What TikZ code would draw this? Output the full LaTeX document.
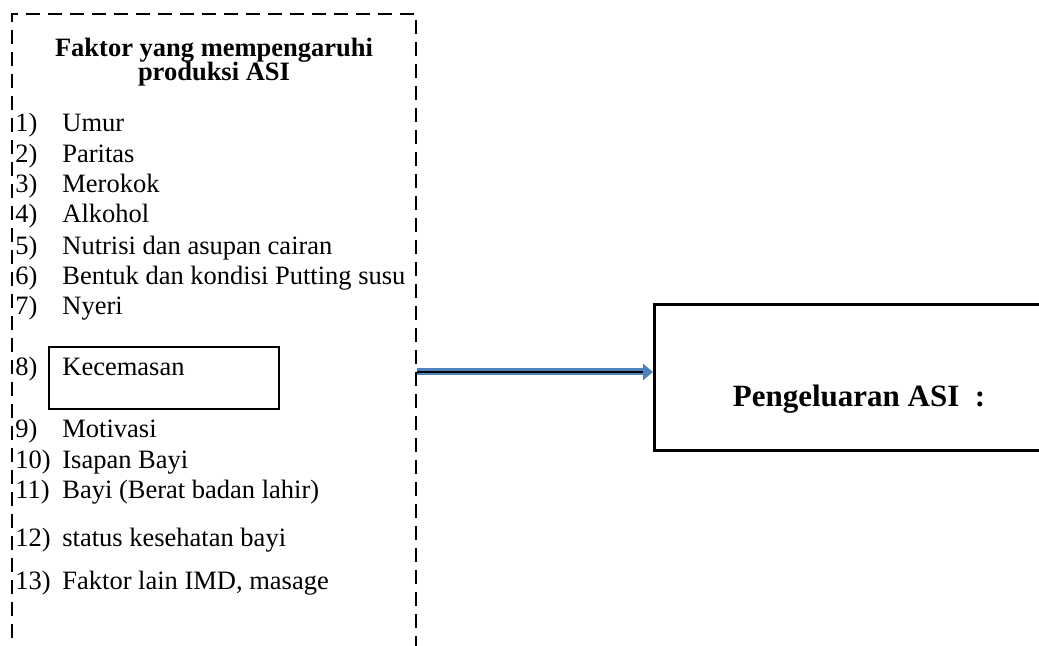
\documentclass[tikz,border=0pt]{standalone}
\usepackage{fontspec}
\setmainfont{Liberation Serif}
\usetikzlibrary{arrows.meta}
\definecolor{arrowblue}{RGB}{79,129,189}

\tikzset{
  item/.style={anchor=base west, inner sep=0pt, font=\fontsize{13.25}{15}\selectfont},
  heading/.style={anchor=base, inner sep=0pt, font=\fontsize{13.25}{15}\selectfont\bfseries},
  framebox/.style={line width=1.3pt},
}

\begin{document}
\begin{tikzpicture}[x=0.5pt, y=-0.5pt]
  % pixel grid, y grows downward
  \def\numw{23.5pt}
  \useasboundingbox (0,0) rectangle (1039,646);
  \clip (0,0) rectangle (1039,646);

  % dashed frame, open at the bottom
  \draw[framebox, dash pattern=on 7pt off 4pt] (12,660) -- (12,14) -- (416,14) -- (416,660);

  % title
  \node[heading] (title1) at (214,57) {Faktor yang mempengaruhi};
  \node[heading] (title2) at (214,81) {produksi ASI};

  % factor list
  \node[item] (n1) at (15,132) {\makebox[\numw][l]{1)}Umur};
  \node[item] (n2) at (15,163) {\makebox[\numw][l]{2)}Paritas};
  \node[item] (n3) at (15,193) {\makebox[\numw][l]{3)}Merokok};
  \node[item] (n4) at (15,223) {\makebox[\numw][l]{4)}Alkohol};
  \node[item] (n5) at (15,255) {\makebox[\numw][l]{5)}Nutrisi dan asupan cairan};
  \node[item] (n6) at (15,285) {\makebox[\numw][l]{6)}Bentuk dan kondisi Putting susu};
  \node[item] (n7) at (15,315) {\makebox[\numw][l]{7)}Nyeri};
  \node[item] (n8) at (15,376) {\makebox[\numw][l]{8)}Kecemasan};
  \node[item] (n9) at (15,438) {\makebox[\numw][l]{9)}Motivasi};
  \node[item] (n10) at (15,469) {\makebox[\numw][l]{10)}Isapan Bayi};
  \node[item] (n11) at (15,499) {\makebox[\numw][l]{11)}Bayi (Berat badan lahir)};
  \node[item] (n12) at (15,546) {\makebox[\numw][l]{12)}status kesehatan bayi};
  \node[item] (n13) at (15,589) {\makebox[\numw][l]{13)}Faktor lain IMD, masage};

  % box round item 8
  \draw[framebox] (49,347) rectangle (279,409);

  % outcome box, runs past the right edge
  \node[draw, framebox, anchor=north west, inner sep=0pt,
        minimum width=198pt, minimum height=73pt] (out) at (653,303) {};
  \node[anchor=base, inner sep=0pt, font=\fontsize{15.5}{18}\selectfont\bfseries]
        (outlbl) at (859,407) {Pengeluaran ASI \ :};

  % arrow
  \coordinate (src) at (417,372);
  \draw[arrowblue, line width=3.5pt, -{Triangle[length=5pt,width=8pt]}] (src) -- (src -| out.west);
  \draw[black, line width=1.2pt] (src) -- ([xshift=-5pt]src -| out.west);
\end{tikzpicture}
\end{document}
